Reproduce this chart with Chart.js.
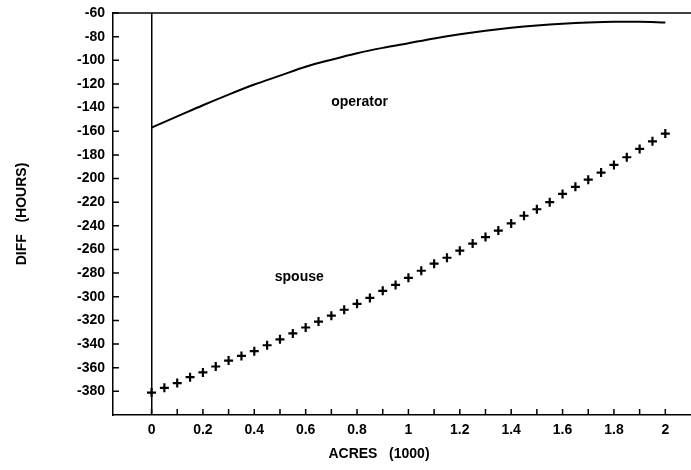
<!DOCTYPE html>
<html lang="en">
<head>
    <meta charset="UTF-8">
    <title>DIFF (HOURS) vs ACRES (1000)</title>
    <style>
        body {
            margin: 0;
            background: #fff;
        }

        #wrap {
            width: 691px;
            height: 470px;
            position: relative;
        }
    </style>
</head>
<body>
    <div id="wrap">
        <canvas id="chart"></canvas>
    </div>

    <script src="https://cdn.jsdelivr.net/npm/chart.js"></script>
    <script>
        // acres (1000) for the spouse series, one cross every 0.05
        const spouseAcres = [
            0, 0.05, 0.1, 0.15, 0.2, 0.25, 0.3, 0.35, 0.4, 0.45,
            0.5, 0.55, 0.6, 0.65, 0.7, 0.75, 0.8, 0.85, 0.9, 0.95,
            1, 1.05, 1.1, 1.15, 1.2, 1.25, 1.3, 1.35, 1.4, 1.45,
            1.5, 1.55, 1.6, 1.65, 1.7, 1.75, 1.8, 1.85, 1.9, 1.95, 2
        ];
        const spouseDiff = [
            -381, -377, -373, -368, -364, -359, -354, -350, -346, -341,
            -336, -331, -326, -321, -316, -311, -306, -301, -295, -290,
            -284, -278, -272, -267, -261, -255, -249.5, -244, -238, -231.5,
            -226, -220, -213, -207, -201, -195, -188.5, -182, -175, -168.5, -162
        ];

        // operator curve, read every 0.1
        const operatorAcres = [
            0, 0.1, 0.2, 0.3, 0.4, 0.5, 0.6, 0.7, 0.8, 0.9,
            1, 1.1, 1.2, 1.3, 1.4, 1.5, 1.6, 1.7, 1.8, 1.9, 2
        ];
        const operatorDiff = [
            -157, -147.5, -138, -129, -120.5, -113, -105.5, -99.5, -94, -89.5,
            -85.5, -81.5, -78, -75, -72.5, -70.5, -69, -68, -67.5, -67.5, -68
        ];

        // text labels placed inside the plot, in data units
        const seriesNotes = [
            { text: 'operator', x: 0.81, y: -135 },
            { text: 'spouse', x: 0.575, y: -283 }
        ];

        const yMin = -400;
        const yMax = -60;
        const xMin = -0.15;
        const xMax = 2.1;

        const FONT = '"Liberation Sans", Arial, sans-serif';

        const near = (v, step) => Math.abs(v / step - Math.round(v / step)) < 1e-6;

        // inward tick marks, top frame line, in-plot labels and x title
        const decorations = {
            id: 'decorations',
            afterDraw(chart) {
                const ctx = chart.ctx;
                const area = chart.chartArea;
                const xs = chart.scales.x;
                const ys = chart.scales.y;
                ctx.save();
                ctx.strokeStyle = '#000';
                ctx.lineWidth = 1.5;

                ctx.beginPath();
                ctx.moveTo(area.left, area.top);
                ctx.lineTo(area.right, area.top);
                ctx.stroke();

                ctx.beginPath();
                xs.ticks.forEach(t => {
                    if (t.value < -1e-9 || t.value > 2 + 1e-9 || !near(t.value, 0.1)) return;
                    const px = xs.getPixelForValue(t.value);
                    ctx.moveTo(px, area.bottom);
                    ctx.lineTo(px, area.bottom - 6);
                });
                ys.ticks.forEach(t => {
                    if (t.value <= yMin) return;
                    const py = ys.getPixelForValue(t.value);
                    ctx.moveTo(area.left, py);
                    ctx.lineTo(area.left + 6, py);
                });
                ctx.stroke();

                ctx.fillStyle = '#000';
                ctx.font = 'bold 14px ' + FONT;
                ctx.textAlign = 'center';
                ctx.textBaseline = 'middle';
                seriesNotes.forEach(n => {
                    ctx.fillText(n.text, xs.getPixelForValue(n.x), ys.getPixelForValue(n.y));
                });

                ctx.fillText('ACRES   (1000)', 379, 454);
                ctx.restore();
            }
        };

        const ctx = document.getElementById('chart').getContext('2d');

        new Chart(ctx, {
            type: 'scatter',
            data: {
                datasets: [
                    {
                        label: 'operator',
                        data: operatorAcres.map((x, i) => ({ x: x, y: operatorDiff[i] })),
                        showLine: true,
                        borderColor: '#000',
                        borderWidth: 2,
                        pointRadius: 0,
                        cubicInterpolationMode: 'monotone',
                        fill: false
                    },
                    {
                        label: 'spouse',
                        data: spouseAcres.map((x, i) => ({ x: x, y: spouseDiff[i] })),
                        showLine: false,
                        pointStyle: 'cross',
                        pointRadius: 4.5,
                        pointBorderWidth: 2.2,
                        borderColor: '#000',
                        backgroundColor: '#000'
                    }
                ]
            },
            options: {
                responsive: true,
                maintainAspectRatio: false,
                animation: false,
                layout: {
                    autoPadding: false,
                    padding: { top: 13, right: 0, bottom: 0, left: 0 }
                },
                plugins: {
                    legend: { display: false },
                    tooltip: { enabled: false }
                },
                scales: {
                    x: {
                        type: 'linear',
                        min: xMin,
                        max: xMax,
                        afterFit: scale => {
                            scale.height = 55;
                            scale.paddingLeft = 0;
                            scale.paddingRight = 0;
                        },
                        border: { display: true, color: '#000', width: 1.5 },
                        grid: {
                            drawTicks: false,
                            lineWidth: 1.5,
                            color: c => (c.tick && Math.abs(c.tick.value) < 1e-9) ? '#000' : 'rgba(0,0,0,0)'
                        },
                        ticks: {
                            stepSize: 0.1,
                            autoSkip: false,
                            maxRotation: 0,
                            padding: 7,
                            color: '#000',
                            font: { family: FONT, size: 14, weight: 'bold' },
                            callback: v => (v > -1e-9 && near(v, 0.2)) ? String(Math.round(v * 10) / 10) : ''
                        }
                    },
                    y: {
                        min: yMin,
                        max: yMax,
                        afterFit: scale => {
                            scale.width = 113;
                            scale.paddingTop = 0;
                            scale.paddingBottom = 0;
                        },
                        border: { display: true, color: '#000', width: 1.5 },
                        grid: { display: false, drawTicks: false },
                        title: {
                            display: true,
                            text: 'DIFF   (HOURS)',
                            color: '#000',
                            padding: { top: 14, bottom: 0 },
                            font: { family: FONT, size: 14, weight: 'bold' }
                        },
                        ticks: {
                            stepSize: 20,
                            padding: 8,
                            color: '#000',
                            font: { family: FONT, size: 14, weight: 'bold' },
                            callback: v => v <= yMin ? '' : String(v)
                        }
                    }
                }
            },
            plugins: [decorations]
        });
    </script>
</body>
</html>
